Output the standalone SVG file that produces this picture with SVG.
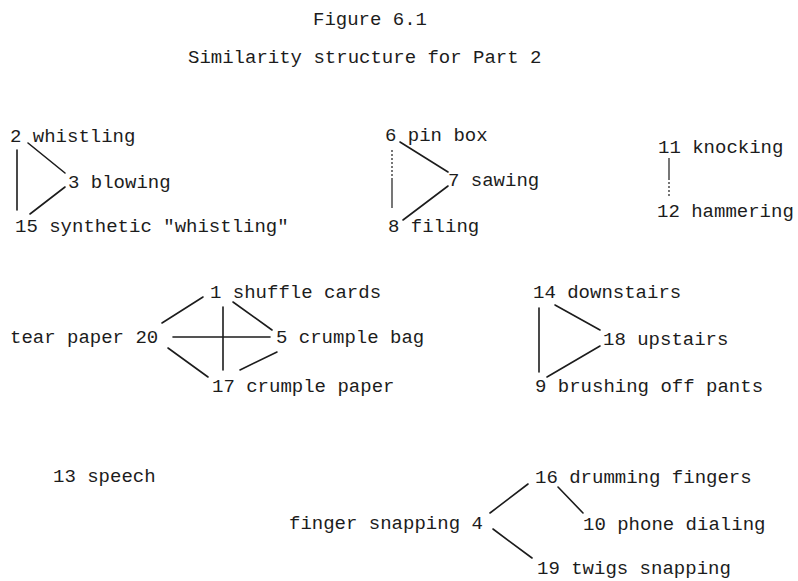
<svg xmlns="http://www.w3.org/2000/svg" width="798" height="581" viewBox="0 0 798 581">
  <style>
    text { font-family: "Liberation Mono", "DejaVu Sans Mono", monospace; font-size: 19px; fill: #1c1c1c; }
    .edge { stroke: #1c1c1c; stroke-width: 1.6; stroke-linecap: round; fill: none; }
    .thin { stroke: #1c1c1c; stroke-width: 1.2; fill: none; }
    .dots { stroke: #1c1c1c; stroke-width: 1.2; stroke-dasharray: 2 2; fill: none; }
  </style>
  <rect width="798" height="581" fill="#ffffff"/>

  <!-- Title -->
  <g id="title">
    <text x="313" y="25">Figure 6.1</text>
    <text x="188" y="63">Similarity structure for Part 2</text>
  </g>

  <!-- Connectors -->
  <g id="connectors">
    <!-- 2 / 3 / 15 -->
    <line class="edge" x1="17" y1="150" x2="17" y2="210"/>
    <line class="edge" x1="28" y1="143" x2="65" y2="173"/>
    <line class="edge" x1="65" y1="187" x2="30" y2="214"/>
    <!-- 6 / 7 / 8 -->
    <line class="dots" x1="392" y1="150" x2="392" y2="180"/>
    <line class="thin" x1="392" y1="180" x2="392" y2="208"/>
    <line class="edge" x1="400" y1="142" x2="448" y2="172"/>
    <line class="edge" x1="448" y1="186" x2="403" y2="220"/>
    <!-- 11 / 12 -->
    <line class="thin" x1="669" y1="158" x2="669" y2="178"/>
    <line class="dots" x1="669" y1="178" x2="669" y2="198"/>
    <!-- 1 / 5 / 17 / 20 -->
    <line class="edge" x1="162" y1="323" x2="203" y2="297"/>
    <line class="edge" x1="233" y1="302" x2="272" y2="330"/>
    <line class="edge" x1="173" y1="337" x2="270" y2="337"/>
    <line class="edge" x1="223" y1="307" x2="223" y2="370"/>
    <line class="edge" x1="168" y1="348" x2="208" y2="377"/>
    <line class="edge" x1="277" y1="352" x2="240" y2="370"/>
    <!-- 14 / 18 / 9 -->
    <line class="edge" x1="539" y1="308" x2="539" y2="372"/>
    <line class="edge" x1="555" y1="305" x2="600" y2="330"/>
    <line class="edge" x1="600" y1="346" x2="547" y2="377"/>
    <!-- 4 / 16 / 10 / 19 -->
    <line class="edge" x1="490" y1="513" x2="528" y2="484"/>
    <line class="edge" x1="493" y1="529" x2="532" y2="558"/>
    <line class="edge" x1="558" y1="487" x2="583" y2="513"/>
  </g>

  <!-- Nodes -->
  <g id="n2"><text x="10" y="142">2 whistling</text></g>
  <g id="n3"><text x="68" y="188">3 blowing</text></g>
  <g id="n15"><text x="15" y="232">15 synthetic "whistling"</text></g>

  <g id="n6"><text x="385" y="141">6 pin box</text></g>
  <g id="n7"><text x="448" y="186">7 sawing</text></g>
  <g id="n8"><text x="388" y="232">8 filing</text></g>

  <g id="n11"><text x="658" y="153">11 knocking</text></g>
  <g id="n12"><text x="657" y="217">12 hammering</text></g>

  <g id="n1"><text x="210" y="298">1 shuffle cards</text></g>
  <g id="n20"><text x="10" y="343">tear paper 20</text></g>
  <g id="n5"><text x="276" y="343">5 crumple bag</text></g>
  <g id="n17"><text x="212" y="392">17 crumple paper</text></g>

  <g id="n14"><text x="533" y="298">14 downstairs</text></g>
  <g id="n18"><text x="603" y="345">18 upstairs</text></g>
  <g id="n9"><text x="535" y="392">9 brushing off pants</text></g>

  <g id="n13"><text x="53" y="482">13 speech</text></g>

  <g id="n4"><text x="289" y="529">finger snapping 4</text></g>
  <g id="n16"><text x="535" y="483">16 drumming fingers</text></g>
  <g id="n10"><text x="583" y="530">10 phone dialing</text></g>
  <g id="n19"><text x="537" y="574">19 twigs snapping</text></g>
</svg>
